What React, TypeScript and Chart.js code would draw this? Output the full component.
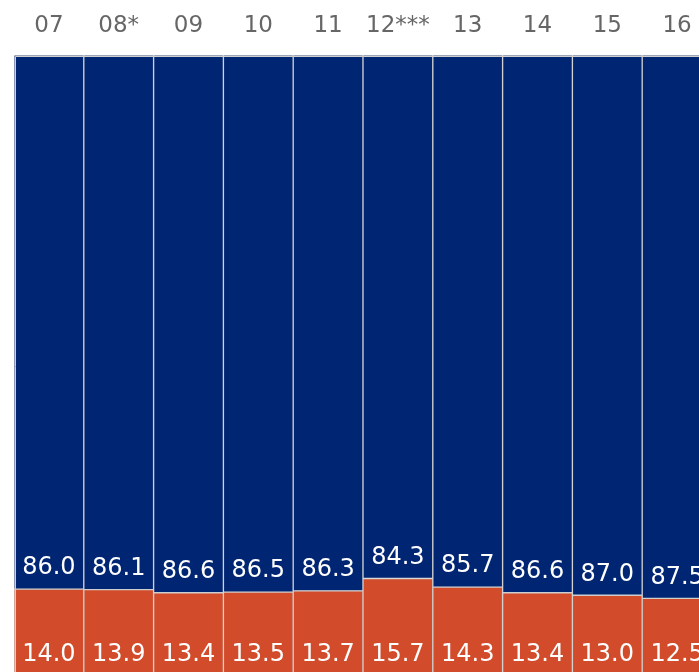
import React, { useEffect, useRef } from "react";
import { Chart, registerables } from "chart.js";

Chart.register(...registerables);

const categories = ["07", "08*", "09", "10", "11", "12***", "13", "14", "15", "16"];
const bottomValues = [14.0, 13.9, 13.4, 13.5, 13.7, 15.7, 14.3, 13.4, 13.0, 12.5];
const topValues = [86.0, 86.1, 86.6, 86.5, 86.3, 84.3, 85.7, 86.6, 87.0, 87.5];

const NAVY = "#002673";
const ORANGE = "#d24b2a";
const BORDER = "#cfcfcf";
const FONT = "'DejaVu Sans', Verdana, sans-serif";

const framePlugin = {
  id: "outerFrame",
  afterDatasetsDraw(chart: any) {
    const { ctx, chartArea } = chart;
    ctx.save();
    ctx.strokeStyle = BORDER;
    ctx.lineWidth = 1;
    ctx.beginPath();
    const x = Math.round(chartArea.left) + 1.5;
    const y = Math.round(chartArea.top) + 1.5;
    ctx.moveTo(x, chartArea.bottom);
    ctx.lineTo(x, y);
    ctx.lineTo(chartArea.right, y);
    ctx.stroke();
    ctx.restore();
  },
};

const labelPlugin = {
  id: "segmentLabels",
  afterDatasetsDraw(chart: any) {
    const ctx = chart.ctx;
    ctx.save();
    ctx.fillStyle = "#ffffff";
    ctx.font = `24px ${FONT}`;
    ctx.textAlign = "center";
    ctx.textBaseline = "middle";
    chart.data.datasets.forEach((ds: any, di: number) => {
      const meta = chart.getDatasetMeta(di);
      meta.data.forEach((el: any, i: number) => {
        const v = ds.data[i] as number;
        const base = Math.max(el.base, el.y);
        ctx.fillText(v.toFixed(1), el.x, base - 21);
      });
    });
    ctx.restore();
  },
};

export default function App() {
  const ref = useRef<HTMLCanvasElement>(null);
  useEffect(() => {
    if (!ref.current) return;
    const chart = new Chart(ref.current, {
      type: "bar",
      data: {
        labels: categories,
        datasets: [
          {
            label: "bottom",
            data: bottomValues,
            backgroundColor: ORANGE,
            borderColor: BORDER,
            borderWidth: 1,
            borderSkipped: false,
            barPercentage: 1,
            categoryPercentage: 1,
          },
          {
            label: "top",
            data: topValues,
            backgroundColor: NAVY,
            borderColor: BORDER,
            borderWidth: 1,
            borderSkipped: false,
            barPercentage: 1,
            categoryPercentage: 1,
          },
        ],
      },
      options: {
        responsive: false,
        animation: false,
        layout: { padding: { left: 14, right: 0, top: 0, bottom: 0 } },
        plugins: { legend: { display: false }, tooltip: { enabled: false } },
        scales: {
          x: {
            position: "top",
            stacked: true,
            grid: { display: false, drawTicks: false },
            border: { display: false },
            ticks: {
              color: "#666666",
              font: { family: FONT, size: 23 },
              padding: 15,
              maxRotation: 0,
              autoSkip: false,
            },
            afterFit: (scale: any) => {
              scale.height = 55;
            },
          },
          y: {
            display: false,
            stacked: true,
            min: 0,
            max: 100,
          },
        },
      },
      plugins: [framePlugin, labelPlugin],
    });
    return () => chart.destroy();
  }, []);
  return (
    <div
      style={{
        position: "fixed",
        left: 0,
        top: 0,
        width: 699,
        height: 672,
        overflow: "hidden",
        background: "#ffffff",
      }}
    >
      <canvas ref={ref} width={712} height={676} style={{ width: 712, height: 676, display: "block" }} />
    </div>
  );
}
